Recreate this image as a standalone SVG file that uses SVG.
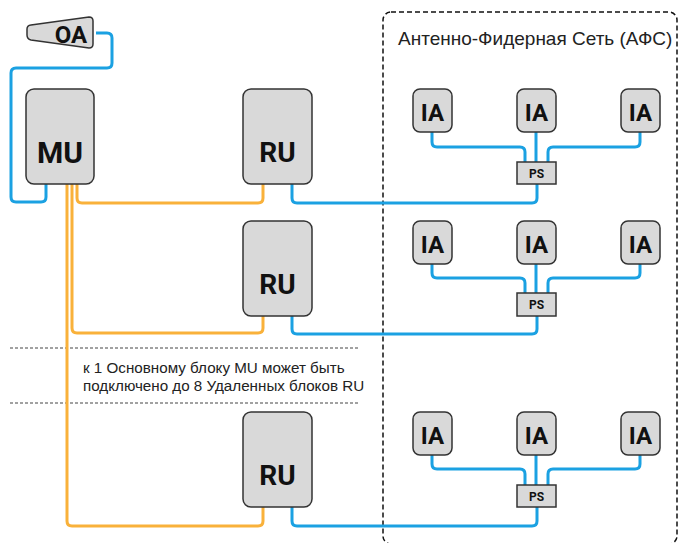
<svg xmlns="http://www.w3.org/2000/svg" width="680" height="543" viewBox="0 0 680 543">
<style>
.box{fill:#d9d9d9;stroke:#333;stroke-width:1.5}
.lbl{font-family:Roboto,"Open Sans","Liberation Sans",sans-serif;font-weight:bold;fill:#111;text-anchor:middle}
.blue{fill:none;stroke:#1ba1e2;stroke-width:3}
.orange{fill:none;stroke:#f9b13a;stroke-width:3}
.txt{font-family:"Liberation Sans",Arial,sans-serif;fill:#222}
.sep{stroke:#444;stroke-width:1;stroke-dasharray:3 2}
</style>
<rect x="0" y="0" width="680" height="543" fill="#fff"/>
<rect x="383" y="12" width="294" height="532" rx="8" fill="none" stroke="#111" stroke-width="1.5" stroke-dasharray="5 3"/>
<text class="txt" x="398" y="45" font-size="19">Антенно-Фидерная Сеть (АФС)</text>
<line class="sep" x1="10" y1="348" x2="358" y2="348"/>
<line class="sep" x1="10" y1="403" x2="358" y2="403"/>
<text class="txt" x="83" y="373" font-size="15.2">к 1 Основному блоку MU может быть</text>
<text class="txt" x="83" y="391" font-size="15.2">подключено до 8 Удаленных блоков RU</text>
<g id="connectors">
<path class="blue" d="M96,33 H107 Q112,33 112,38 V63 Q112,68 107,68 H16 Q11,68 11,73 V197 Q11,202 16,202 H41 Q46,202 46,197 V184"/>
<path class="orange" d="M77,184 V198 Q77,203 82,203 H258 Q263,203 263,198 V184"/>
<path class="orange" d="M72,184 V328 Q72,333 77,333 H258 Q263,333 263,328 V316"/>
<path class="orange" d="M67,184 V521 Q67,526 72,526 H258 Q263,526 263,521 V507"/>
<g id="row1-wires">
<path class="blue" d="M432,132 V142 Q432,147 437,147 H520 Q525,147 525,152 V162"/>
<path class="blue" d="M536,132 V162"/>
<path class="blue" d="M640,132 V142 Q640,147 635,147 H553 Q548,147 548,152 V162"/>
<path class="blue" d="M537,184 V198 Q537,203 532,203 H297 Q292,203 292,198 V184"/>
</g>
<g id="row2-wires">
<path class="blue" d="M432,263 V273 Q432,278 437,278 H520 Q525,278 525,283 V293"/>
<path class="blue" d="M536,263 V293"/>
<path class="blue" d="M640,263 V273 Q640,278 635,278 H553 Q548,278 548,283 V293"/>
<path class="blue" d="M537,316 V329 Q537,334 532,334 H297 Q292,334 292,329 V316"/>
</g>
<g id="row3-wires">
<path class="blue" d="M432,455 V464 Q432,469 437,469 H520 Q525,469 525,474 V485"/>
<path class="blue" d="M536,455 V485"/>
<path class="blue" d="M640,455 V464 Q640,469 635,469 H553 Q548,469 548,474 V485"/>
<path class="blue" d="M537,507 V521 Q537,526 532,526 H297 Q292,526 292,521 V507"/>
</g>
</g>
<g id="OA">
<path class="box" d="M31,25 L89,17 Q93,17 93,21 V44 Q93,48 89,48 L31,40 Q27,39 27,35 V29 Q27,25.5 31,25 Z"/>
<text class="lbl" x="71" y="43" font-size="24">OA</text>
</g>
<g id="MU">
<rect class="box" x="26" y="89" width="68" height="95" rx="8"/>
<text class="lbl" x="60" y="163" font-size="30">MU</text>
</g>
<g id="RU1">
<rect class="box" x="243" y="89" width="69" height="95" rx="8"/>
<text class="lbl" x="277.5" y="162" font-size="28">RU</text>
</g>
<g id="RU2">
<rect class="box" x="243" y="221" width="69" height="95" rx="8"/>
<text class="lbl" x="277.5" y="294" font-size="28">RU</text>
</g>
<g id="RU3">
<rect class="box" x="243" y="412" width="69" height="95" rx="8"/>
<text class="lbl" x="277.5" y="485" font-size="28">RU</text>
</g>
<g id="IA1-1"><rect class="box" x="413" y="89" width="39" height="43" rx="7"/><text class="lbl" x="432.5" y="121" font-size="24">IA</text></g>
<g id="IA1-2"><rect class="box" x="517" y="89" width="39" height="43" rx="7"/><text class="lbl" x="536.5" y="121" font-size="24">IA</text></g>
<g id="IA1-3"><rect class="box" x="621" y="89" width="39" height="43" rx="7"/><text class="lbl" x="640.5" y="121" font-size="24">IA</text></g>
<g id="PS1"><rect class="box" x="517" y="162" width="39" height="22"/><text class="lbl" x="536.5" y="178" font-size="12">PS</text></g>
<g id="IA2-1"><rect class="box" x="413" y="221" width="39" height="43" rx="7"/><text class="lbl" x="432.5" y="253" font-size="24">IA</text></g>
<g id="IA2-2"><rect class="box" x="517" y="221" width="39" height="43" rx="7"/><text class="lbl" x="536.5" y="253" font-size="24">IA</text></g>
<g id="IA2-3"><rect class="box" x="621" y="221" width="39" height="43" rx="7"/><text class="lbl" x="640.5" y="253" font-size="24">IA</text></g>
<g id="PS2"><rect class="box" x="517" y="293" width="39" height="23"/><text class="lbl" x="536.5" y="309" font-size="12">PS</text></g>
<g id="IA3-1"><rect class="box" x="413" y="412" width="39" height="43" rx="7"/><text class="lbl" x="432.5" y="444" font-size="24">IA</text></g>
<g id="IA3-2"><rect class="box" x="517" y="412" width="39" height="43" rx="7"/><text class="lbl" x="536.5" y="444" font-size="24">IA</text></g>
<g id="IA3-3"><rect class="box" x="621" y="412" width="39" height="43" rx="7"/><text class="lbl" x="640.5" y="444" font-size="24">IA</text></g>
<g id="PS3"><rect class="box" x="517" y="485" width="39" height="22"/><text class="lbl" x="536.5" y="501" font-size="12">PS</text></g>
</svg>
